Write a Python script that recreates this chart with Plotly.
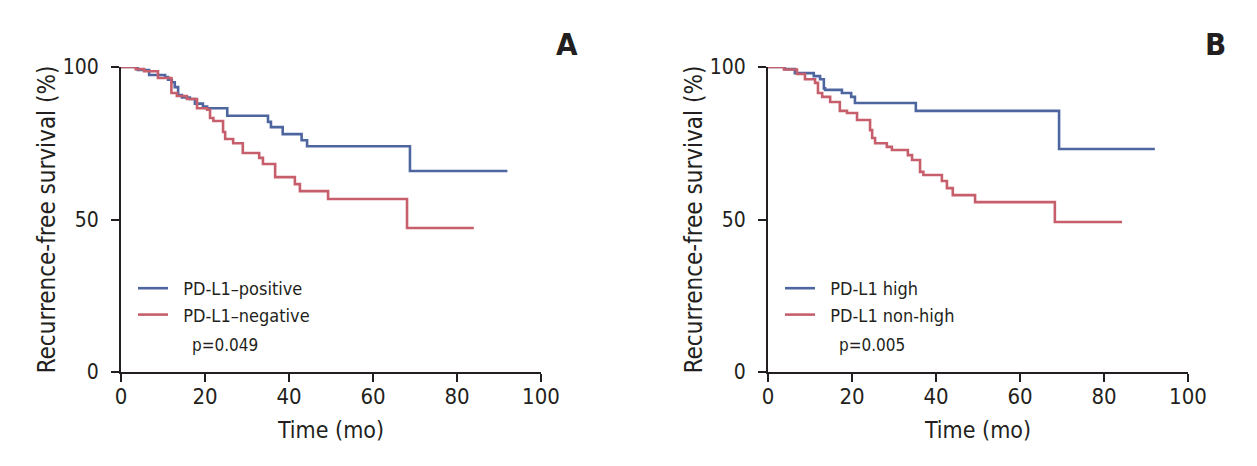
import plotly.graph_objects as go

# ---------------- data ----------------
a_pos_t = [0, 4, 6.7, 10.5, 11.2, 12.1, 12.8, 13.6, 14.5, 16.4, 17.6, 19.5, 20.5, 25.3, 35, 35.7, 38.5, 43, 44.3, 68.8, 92]
a_pos_s = [100, 99, 97.4, 96.7, 95.8, 95, 93.4, 90.8, 90, 89.5, 88, 87, 86.5, 84, 82, 80.3, 78, 76, 74, 65.9, 65.9]

a_neg_t = [0, 3.5, 5.5, 8.8, 12, 13.3, 15.7, 18.1, 20.5, 21.2, 22, 24.3, 24.8, 26.7, 29, 32.9, 33.8, 36.7, 41.4, 42.6, 49.3, 68.1, 84]
a_neg_s = [100, 99.3, 98.6, 96.4, 91.5, 90.5, 89.5, 86.5, 86, 83.3, 82.3, 78.7, 76.4, 75, 71.8, 70.2, 68.2, 63.9, 61.6, 59.3, 56.7, 47.2, 47.2]

b_high_t = [0, 4, 6.4, 10.9, 12.4, 13.3, 13.6, 17.6, 19.8, 20.7, 35.2, 69.3, 92.1]
b_high_s = [100, 99.3, 98, 97, 96, 93, 92.5, 91.5, 90.2, 88.2, 85.6, 73.1, 73.1]

b_non_t = [0, 3.8, 6.9, 8.8, 11.2, 11.9, 12.9, 14.8, 17.1, 18.8, 21.2, 24.3, 24.8, 25.5, 28.3, 29.5, 33.3, 34.3, 36.2, 37, 41.4, 42.6, 44, 49.3, 68.3, 84.3]
b_non_s = [100, 99.2, 97.7, 96, 94.8, 91.5, 90.2, 88.5, 85.6, 84.9, 82.6, 79.3, 76.7, 75, 73.8, 72.8, 71.1, 69.5, 65.6, 64.6, 62.6, 60.3, 58, 55.7, 49.2, 49.2]

x_ticks = [0, 20, 40, 60, 80, 100]
y_ticks = [0, 50, 100]
names_a = ["PD-L1\u2013positive", "PD-L1\u2013negative"]
names_b = ["PD-L1 high", "PD-L1 non-high"]
p_texts = ["p=0.049", "p=0.005"]
panel_labels = ["A", "B"]

BLUE = "#4E66A0"
RED = "#C65F6B"
INK = "#231F20"
FONT = "Liberation Sans Narrow, DejaVu Sans Condensed, Arial Narrow, sans-serif"

W, H = 1257, 466
OFF = 8  # page body margin offset


def px(x):
    return (x - OFF) / W


def py(y):
    return 1 - (y - OFF) / H


PAD = "\u00a0\u00a0"

fig = go.Figure()

fig.add_trace(go.Scatter(x=a_pos_t, y=a_pos_s, mode="lines", line=dict(color=BLUE, width=2.6, shape="hv"),
                         name=PAD + names_a[0], xaxis="x", yaxis="y", legend="legend"))
fig.add_trace(go.Scatter(x=a_neg_t, y=a_neg_s, mode="lines", line=dict(color=RED, width=2.6, shape="hv"),
                         name=PAD + names_a[1], xaxis="x", yaxis="y", legend="legend"))
fig.add_trace(go.Scatter(x=b_high_t, y=b_high_s, mode="lines", line=dict(color=BLUE, width=2.6, shape="hv"),
                         name=PAD + names_b[0], xaxis="x2", yaxis="y2", legend="legend2"))
fig.add_trace(go.Scatter(x=b_non_t, y=b_non_s, mode="lines", line=dict(color=RED, width=2.6, shape="hv"),
                         name=PAD + names_b[1], xaxis="x2", yaxis="y2", legend="legend2"))

ydom = [py(372), py(67)]
xdomA = [px(121), px(541)]
xdomB = [px(768), px(1188)]

axis_common = dict(range=[0, 100], showgrid=False, zeroline=False, showline=True, linecolor=INK, linewidth=2,
                   ticks="outside", ticklen=8, tickwidth=2, tickcolor=INK,
                   tickfont=dict(family=FONT, size=22, color=INK), fixedrange=True)


def xaxis(dom, anchor):
    return dict(axis_common, domain=dom, anchor=anchor, tickvals=x_ticks, ticklabelstandoff=-4,
                title=dict(text="Time (mo)", font=dict(family=FONT, size=23, color=INK), standoff=13))


def yaxis(anchor):
    return dict(axis_common, domain=ydom, anchor=anchor, tickvals=y_ticks, ticklabelstandoff=8,
                tickfont=dict(family=FONT, size=21, color=INK),
                title=dict(text="Recurrence-free survival (%)", font=dict(family=FONT, size=24, color=INK), standoff=0))


leg_common = dict(font=dict(family=FONT, size=18, color=INK), bgcolor="rgba(0,0,0,0)",
                  xanchor="left", yanchor="top", tracegroupgap=0, itemwidth=30)

fig.update_layout(
    width=W, height=H,
    margin=dict(l=0, r=0, t=0, b=0, autoexpand=False),
    paper_bgcolor="white", plot_bgcolor="white",
    xaxis=xaxis(xdomA, "y"), yaxis=yaxis("x"),
    xaxis2=xaxis(xdomB, "y2"), yaxis2=yaxis("x2"),
    legend=dict(leg_common, x=px(133), y=py(270)),
    legend2=dict(leg_common, x=px(780), y=py(270)),
    annotations=[
        dict(text=p_texts[0], x=px(190), y=py(345), xref="paper", yref="paper", xanchor="left", yanchor="middle",
             showarrow=False, font=dict(family=FONT, size=17, color=INK)),
        dict(text=p_texts[1], x=px(837), y=py(345), xref="paper", yref="paper", xanchor="left", yanchor="middle",
             showarrow=False, font=dict(family=FONT, size=17, color=INK)),
        dict(text="<b>" + panel_labels[0] + "</b>", x=px(567), y=py(44), xref="paper", yref="paper",
             xanchor="center", yanchor="middle", showarrow=False, font=dict(family=FONT, size=31, color=INK)),
        dict(text="<b>" + panel_labels[1] + "</b>", x=px(1215), y=py(44), xref="paper", yref="paper",
             xanchor="center", yanchor="middle", showarrow=False, font=dict(family=FONT, size=31, color=INK)),
    ],
)

fig.write_html("out.html")
